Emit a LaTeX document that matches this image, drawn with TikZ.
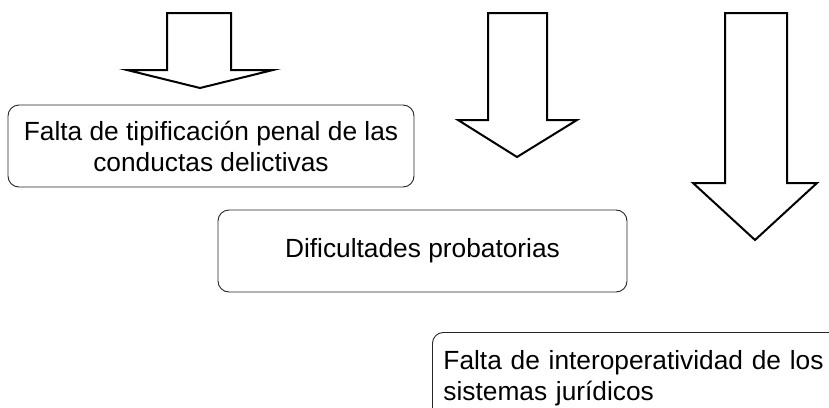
\documentclass[tikz,border=0pt]{standalone}
\usepackage{fontspec}
\setmainfont{Liberation Sans}
\usepackage{tikz}

\tikzset{
  caja/.style={draw=black!85, line width=0.9pt, rounded corners=11pt, font=\fontsize{26.3}{31}\selectfont},
  flecha/.style={draw=black, line width=2pt, line join=miter, fill=white}
}

\begin{document}
\begin{tikzpicture}[x=1pt,y=-1pt]
\clip (0,0) rectangle (829,407);
\fill[white] (0,0) rectangle (829,407);
\draw[flecha] (167,13) -- (231,13) -- (231,70) -- (273,70) -- (200,88) -- (127,70) -- (167,70) -- cycle;
\draw[flecha] (488,13) -- (547,13) -- (547,120) -- (577,120) -- (517,157) -- (458,120) -- (488,120) -- cycle;
\draw[flecha] (725,13) -- (787,13) -- (787,183) -- (817,183) -- (755,240) -- (693,183) -- (725,183) -- cycle;
\node[caja, minimum width=406pt, minimum height=82pt, align=center] (tipificacion) at (211,146) {Falta de tipificación penal de las\\ conductas delictivas};
\node[caja, minimum width=409pt, minimum height=82pt] (probatorias) at (422.5,251) {Dificultades probatorias};
\node[caja, anchor=north west, text width=420pt, align=left, inner xsep=11pt, inner ysep=18pt] (interoperatividad) at (432,332) {Falta de interoperatividad de los\\ sistemas jurídicos};
\end{tikzpicture}
\end{document}
